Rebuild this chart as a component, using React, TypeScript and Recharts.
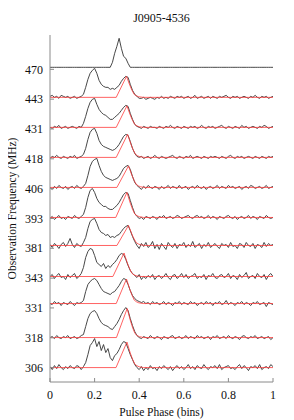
import React from 'react';
import { LineChart, Line, XAxis, YAxis } from 'recharts';

// Phase grid (bins normalised to 0..1)
const phases: number[] = Array.from({ length: 101 }, (_, i) => i / 100);

// Frequency labels (bottom to top) and baseline offsets of each profile
const freqLabels = ['306', '318', '331', '343', '381', '393', '406', '418', '431', '443', '470'];
const baselines = [0, 30, 64, 91, 122, 150, 180, 210, 240, 270, 300];
const yTickPos = [0, 29.8, 59.6, 89.4, 119.2, 149, 178.8, 208.6, 238.4, 268.2, 298];
const xTicks = [0, 0.2, 0.4, 0.6, 0.8, 1];
const xTickLabels = ['0', '0.2', '0.4', '0.6', '0.8', '1'];
const title = 'J0905-4536';

// Profile intensities (arbitrary flux units) on the phase grid
const prof470 = [0,0,0,0,0,0,0,0,0,0, 0,0,0,0,0,0,0,0,0,0, 0,0,0,0,0,0,0,0,5,14, 21,29,19,11,9,4,0,0,0,0, 0,0,0,0,0,0,0,0,0,0, 0,0,0,0,0,0,0,0,0,0, 0,0,0,0,0,0,0,0,0,0, 0,0,0,0,0,0,0,0,0,0, 0,0,0,0,0,0,0,0,0,0, 0,0,0,0,0,0,0,0,0,0, 0];
const prof443 = [1,2,0,1,-1,2,1,0,1,-1, 0,1,-1,0,1,3,10,18,24,27, 29,24,17,13,11,10,10,8,9,8, 10,12,16,19,21,20,13,7,3,1, -1,-1,0,-2,-1,0,-1,-2,0,-1, 1,-1,0,-1,1,0,-1,1,0,1, -1,0,1,-1,0,2,-1,0,1,-1, 0,1,-1,1,0,-1,1,0,1,2, 0,-1,1,0,1,-1,0,1,0,-1, 1,0,2,0,-1,1,0,1,-1,0, 1];
const prof431 = [0,-1,1,0,2,-1,0,1,-1,0, 1,0,-1,1,0,4,11,19,25,28, 29,23,18,15,13,12,10,8,8,10, 12,14,17,20,22,21,14,8,3,1, 0,-1,1,0,-1,1,0,0,-1,1, 0,-1,1,0,2,0,-1,1,0,-1, 1,0,-1,1,0,1,-1,0,2,0, -1,1,0,1,-1,0,1,2,0,-1, 1,0,-1,1,0,-1,2,0,1,-1, 0,1,0,-1,1,0,2,1,-1,0, 1];
const prof418 = [-1,1,0,2,0,-1,1,0,-1,1, 0,2,-1,0,1,3,9,18,25,28, 29,24,17,13,11,10,9,8,7,8, 10,13,17,21,23,22,16,9,4,1, 0,1,-1,0,1,-1,0,2,0,-1, 1,0,-1,0,1,2,0,-1,1,0, -1,1,0,2,-1,0,1,0,-1,1, 0,-1,1,0,1,0,-1,1,0,-1, 1,2,0,-1,1,0,1,-1,0,1, 0,-1,1,0,-1,1,0,-1,1,0, 1];
const prof406 = [0,-2,1,-1,2,0,-1,1,-2,0, 1,-1,2,0,-1,1,4,12,21,26, 28,29,22,16,12,10,9,8,7,8, 9,11,15,19,21,22,18,11,5,2, 0,-2,1,-1,2,0,-1,1,0,-2, 1,-1,0,2,-1,1,0,-1,2,-1, 0,1,-2,0,1,-1,2,0,-1,1, -2,0,1,-1,0,2,-1,1,0,-1, 2,0,1,-1,0,1,-2,0,1,-1, 2,1,-1,0,1,-1,0,2,-1,0, 1];
const prof393 = [-1,1,-2,0,2,-1,0,-2,1,0, -1,2,0,-1,1,3,10,20,27,29, 25,19,15,13,11,11,9,8,8,10, 12,15,19,23,25,24,17,10,4,1, -1,0,-2,1,0,-1,1,0,-2,1, 0,2,-1,0,1,-1,0,2,1,-1, 0,1,2,0,-1,1,2,0,1,-1, 0,2,-1,1,0,-2,1,0,-1,1, 2,0,-1,1,-2,0,1,-1,0,2, -1,1,0,-2,1,0,-1,2,0,-1, 0];
const prof381 = [1,-2,2,0,-3,1,3,-1,2,7, 1,-2,2,0,-1,3,8,17,24,26, 27,22,16,13,12,10,11,8,9,8, 10,11,14,17,19,20,15,9,4,0, -3,2,-1,3,-2,0,4,-3,1,-4, 2,-1,-4,3,0,-2,2,-3,1,0, 3,-2,1,-1,4,-2,0,2,-3,1, -1,3,-2,0,2,-1,-3,2,0,1, -2,3,-1,0,-3,2,1,-2,3,0, -1,2,-3,1,0,-2,3,-1,2,0, 1];
const prof343 = [0,2,-2,1,3,-1,0,-3,2,-1, 1,3,-2,0,3,9,19,25,28,27, 21,14,12,10,13,8,11,9,12,14, 17,21,23,22,17,11,6,3,1,-1, 2,-3,0,-2,1,-1,2,-3,0,1, -2,0,3,-1,-3,1,2,-2,0,3, -1,2,-2,0,1,3,-2,0,-1,2, -3,1,0,3,-1,-2,1,2,-1,0, 3,-2,1,0,-3,2,-1,1,4,-2, 0,1,-2,3,0,-1,2,-3,1,3, 0];
const prof331 = [0,-1,2,0,1,-2,1,0,-1,2, 0,-2,1,0,1,3,12,19,22,24, 25,23,19,15,12,11,10,9,11,12, 15,18,22,25,24,19,13,8,5,3, 2,1,2,0,1,-1,2,0,1,-1, 0,2,-1,1,0,-2,1,0,2,-1, 1,0,-1,2,0,1,-2,0,1,-1, 2,0,1,-2,1,0,2,-1,0,3, -1,1,0,-2,1,0,2,-1,1,0, -2,1,0,2,-1,0,1,-3,1,0, -1];
const prof318 = [0,1,-1,2,0,-1,1,0,2,-1, 0,1,-1,0,2,3,11,19,24,26, 27,24,19,15,13,12,11,9,8,11, 14,18,23,27,30,27,19,12,6,2, 0,-1,1,0,-1,2,0,-1,1,0, -2,1,0,-1,1,2,-1,0,1,-1, 0,2,-1,1,0,-1,2,0,1,-1, 0,1,-2,1,0,2,-1,0,1,-1, 2,0,-1,1,0,-2,1,2,0,-1, 1,0,2,-1,0,1,-1,0,1,-2, 0];
const prof306 = [1,-2,2,-1,3,0,-2,1,-1,2, 0,-1,2,1,-2,1,5,13,22,25, 29,21,26,17,23,15,19,10,7,12, 14,18,23,26,25,19,13,8,3,0, -2,1,-3,0,-2,2,-1,0,-3,1, -1,2,0,-2,1,-3,0,2,-1,1, -2,0,3,-1,1,-2,2,0,-1,3, 0,-2,1,0,2,-1,3,-2,0,1, 2,-1,0,-2,1,3,-1,2,0,-3, 1,0,2,-1,3,-2,0,1,-1,3, 1];

// Scattering fits: [phase, intensity]
const fit443 = [[0,0],[0.297,0],[0.343,21],[0.358,12],[0.368,6.9],[0.378,2.9],[0.388,1.5],[0.398,0.6],[0.418,0],[1,0]];
const fit431 = [[0,0],[0.297,0],[0.345,21.5],[0.36,12.3],[0.37,7.1],[0.38,3],[0.39,1.5],[0.4,0.6],[0.42,0],[1,0]];
const fit418 = [[0,0],[0.297,0],[0.348,23],[0.363,13.1],[0.373,7.6],[0.383,3.2],[0.393,1.6],[0.403,0.7],[0.423,0],[1,0]];
const fit406 = [[0,0],[0.3,0],[0.352,21.5],[0.367,12.3],[0.377,7.1],[0.387,3],[0.397,1.5],[0.407,0.6],[0.427,0],[1,0]];
const fit393 = [[0,0],[0.295,0],[0.345,25],[0.36,14.3],[0.37,8.3],[0.38,3.5],[0.39,1.8],[0.4,0.8],[0.42,0],[1,0]];
const fit381 = [[0,0],[0.3,0],[0.352,20],[0.367,11.4],[0.377,6.6],[0.387,2.8],[0.397,1.4],[0.407,0.6],[0.427,0],[1,0]];
const fit343 = [[0,0],[0.282,0],[0.332,23.5],[0.347,13.4],[0.357,7.8],[0.367,3.3],[0.377,1.6],[0.387,0.7],[0.407,0],[1,0]];
const fit331 = [[0,0],[0.297,0],[0.343,24.5],[0.358,14],[0.368,8.1],[0.378,3.4],[0.388,1.7],[0.398,0.7],[0.418,0],[1,0]];
const fit318 = [[0,0],[0.298,0],[0.346,29],[0.361,16.5],[0.371,9.6],[0.381,4.1],[0.391,2],[0.401,0.9],[0.421,0],[1,0]];
const fit306 = [[0,0],[0.296,0],[0.345,25.5],[0.36,14.5],[0.37,8.4],[0.38,3.6],[0.39,1.8],[0.4,0.8],[0.42,0],[1,0]];

const profiles = [prof306, prof318, prof331, prof343, prof381, prof393, prof406, prof418, prof431, prof443, prof470];
const fits: (number[][] | null)[] = [fit306, fit318, fit331, fit343, fit381, fit393, fit406, fit418, fit431, fit443, null];

const FONT = "'Liberation Serif', 'DejaVu Serif', serif";
const FRAME = '#8a8a8a';
const TEXT = '#111';

const BottomTick = (props: any) => {
  const { x, y, payload } = props;
  const idx = xTicks.indexOf(payload.value);
  return (
    <g>
      <line x1={x} x2={x} y1={y} y2={y - 4} stroke={FRAME} strokeWidth={1} />
      <text x={x} y={y + 13} dy="0.35em" textAnchor="middle" style={{ fontFamily: FONT, fontSize: 12, fill: TEXT }}>
        {xTickLabels[idx]}
      </text>
    </g>
  );
};
const TopTick = (props: any) => {
  const { x, y } = props;
  return <line x1={x} x2={x} y1={y} y2={y + 4} stroke={FRAME} strokeWidth={1} />;
};
const LeftTick = (props: any) => {
  const { x, y, payload } = props;
  const idx = yTickPos.indexOf(payload.value);
  return (
    <g>
      <line x1={x} x2={x + 4} y1={y} y2={y} stroke={FRAME} strokeWidth={1} />
      <text x={x - 7} y={y} dy="0.35em" textAnchor="end" style={{ fontFamily: FONT, fontSize: 12, fill: TEXT }}>
        {freqLabels[idx]}
      </text>
    </g>
  );
};
const RightTick = (props: any) => {
  const { x, y } = props;
  return <line x1={x} x2={x - 4} y1={y} y2={y} stroke={FRAME} strokeWidth={1} />;
};

export default function App() {
  const yDomain = [-14.4, 332.3];
  return (
    <div style={{ position: 'relative', width: 286, height: 412 }}>
      <div
        style={{
          position: 'absolute',
          left: 42,
          top: 3,
          width: 223,
          textAlign: 'center',
          fontFamily: FONT,
          fontSize: 12,
          lineHeight: '14px',
          color: TEXT,
        }}
      >
        {title}
      </div>
      <LineChart width={286} height={412} margin={{ top: 27, right: 21, bottom: 0, left: 0 }}>
        <XAxis
          xAxisId="b"
          type="number"
          dataKey="x"
          domain={[0, 1]}
          ticks={xTicks}
          interval={0}
          height={38}
          tickSize={0}
          tickMargin={0}
          tickLine={false}
          tick={BottomTick}
          axisLine={{ stroke: FRAME }}
          allowDataOverflow
          label={{ value: 'Pulse Phase (bins)', position: 'insideBottom', offset: 4, style: { fontFamily: FONT, fontSize: 11.5, fill: TEXT } }}
        />
        <XAxis
          xAxisId="t"
          orientation="top"
          type="number"
          dataKey="x"
          domain={[0, 1]}
          ticks={xTicks}
          interval={0}
          height={0}
          tickSize={0}
          tickMargin={0}
          tickLine={false}
          tick={TopTick}
          axisLine={{ stroke: FRAME }}
          allowDataOverflow
        />
        <YAxis
          yAxisId="l"
          type="number"
          domain={yDomain}
          ticks={yTickPos}
          interval={0}
          width={42}
          tickSize={0}
          tickMargin={0}
          tickLine={false}
          tick={LeftTick}
          axisLine={{ stroke: FRAME }}
          allowDataOverflow
          label={{ value: 'Observation Frequency (MHz)', angle: -90, position: 'insideLeft', offset: 4, style: { textAnchor: 'middle', fontFamily: FONT, fontSize: 11.5, fill: TEXT } }}
        />
        <YAxis
          yAxisId="r"
          orientation="right"
          type="number"
          domain={yDomain}
          ticks={yTickPos}
          interval={0}
          width={0}
          tickSize={0}
          tickMargin={0}
          tickLine={false}
          tick={RightTick}
          axisLine={{ stroke: FRAME }}
          allowDataOverflow
        />
        {profiles.map((vals, k) => (
          <Line
            key={'p' + k}
            xAxisId="b"
            yAxisId="l"
            data={phases.map((p, i) => ({ x: p, y: baselines[k] + vals[i] }))}
            dataKey="y"
            type="linear"
            stroke="#333"
            strokeWidth={0.9}
            dot={false}
            activeDot={false}
            isAnimationActive={false}
          />
        ))}
        {fits.map((f, k) =>
          f ? (
            <Line
              key={'f' + k}
              xAxisId="b"
              yAxisId="l"
              data={f.map((pt) => ({ x: pt[0], y: baselines[k] + pt[1] }))}
              dataKey="y"
              type="linear"
              stroke="#ff3b3b"
              strokeWidth={0.8}
              dot={false}
              activeDot={false}
              isAnimationActive={false}
            />
          ) : null
        )}
      </LineChart>
    </div>
  );
}
